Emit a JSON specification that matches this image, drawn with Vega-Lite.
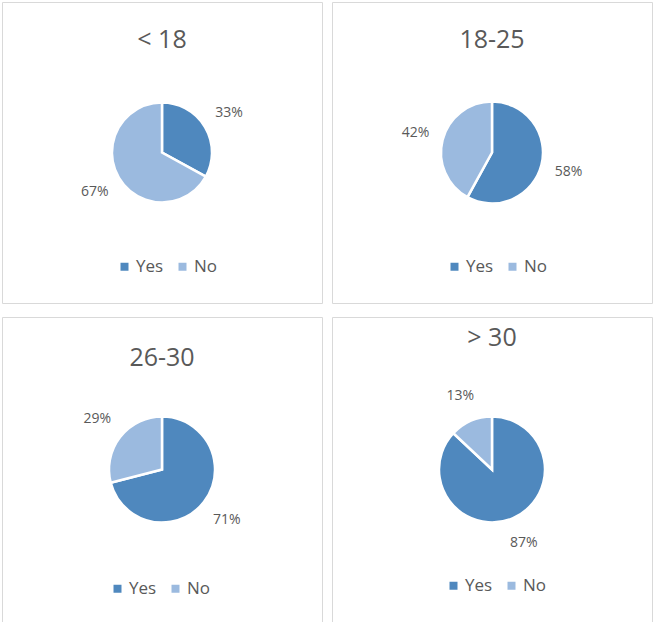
{
  "$schema": "https://vega.github.io/schema/vega-lite/v6.json",
  "padding": {"left": 1, "top": 1, "right": 0, "bottom": 0},
  "background": "white",
  "data": {"values": [
    {"group": "< 18", "answer": "Yes", "rank": 1, "share": 0.33},
    {"group": "< 18", "answer": "No", "rank": 2, "share": 0.67},
    {"group": "18-25", "answer": "Yes", "rank": 1, "share": 0.58},
    {"group": "18-25", "answer": "No", "rank": 2, "share": 0.42},
    {"group": "26-30", "answer": "Yes", "rank": 1, "share": 0.71},
    {"group": "26-30", "answer": "No", "rank": 2, "share": 0.29},
    {"group": "> 30", "answer": "Yes", "rank": 1, "share": 0.87},
    {"group": "> 30", "answer": "No", "rank": 2, "share": 0.13}
  ]},
  "columns": 2,
  "spacing": {"row": 12, "column": 8},
  "resolve": {"legend": {"color": "independent"}},
  "config": {
    "font": "Open Sans",
    "view": {"stroke": "#d9d9d9", "strokeWidth": 1},
    "title": {"fontSize": 25, "fontWeight": "normal", "color": "#595959", "font": "Open Sans", "baseline": "middle", "frame": "group", "anchor": "middle"},
    "legend": {"orient": "none", "direction": "horizontal", "symbolType": "square", "symbolSize": 64, "labelFontSize": 17, "labelColor": "#595959", "labelFont": "Open Sans", "columnPadding": 10, "labelOffset": 3, "symbolStrokeWidth": 0, "title": null}
  },
  "concat": [
    {
      "width": 320, "height": 301,
      "view": {"stroke": "#d9d9d9", "strokeWidth": 1, "fill": "white"},
      "title": {"text": "< 18", "offset": -51},
      "transform": [{"filter": "datum.group === '< 18'"}],
      "layer": [
        {"mark": {"type": "arc", "radius": 50, "stroke": "white", "strokeWidth": 2.5},
         "encoding": {
           "theta": {"field": "share", "type": "quantitative", "stack": true},
           "order": {"field": "rank", "type": "quantitative"},
           "color": {"field": "answer", "type": "nominal", "scale": {"domain": ["Yes", "No"], "range": ["#4F88BE", "#9BBADF"]}, "legend": {"legendX": 114, "legendY": 256, "title": null}}
         }},
        {"mark": {"type": "text", "radius": 78, "fontSize": 14, "color": "#595959"},
         "encoding": {
           "theta": {"field": "share", "type": "quantitative", "stack": true},
           "order": {"field": "rank", "type": "quantitative"},
           "text": {"field": "share", "type": "quantitative", "format": ".0%"}
         }}
      ]
    },
    {
      "width": 320, "height": 301,
      "view": {"stroke": "#d9d9d9", "strokeWidth": 1, "fill": "white"},
      "title": {"text": "18-25", "offset": -51},
      "transform": [{"filter": "datum.group === '18-25'"}],
      "layer": [
        {"mark": {"type": "arc", "radius": 51, "stroke": "white", "strokeWidth": 2.5},
         "encoding": {
           "theta": {"field": "share", "type": "quantitative", "stack": true},
           "order": {"field": "rank", "type": "quantitative"},
           "color": {"field": "answer", "type": "nominal", "scale": {"domain": ["Yes", "No"], "range": ["#4F88BE", "#9BBADF"]}, "legend": {"legendX": 114, "legendY": 256, "title": null}}
         }},
        {"mark": {"type": "text", "radius": 79, "fontSize": 14, "color": "#595959"},
         "encoding": {
           "theta": {"field": "share", "type": "quantitative", "stack": true},
           "order": {"field": "rank", "type": "quantitative"},
           "text": {"field": "share", "type": "quantitative", "format": ".0%"}
         }}
      ]
    },
    {
      "width": 320, "height": 305,
      "view": {"stroke": "#d9d9d9", "strokeWidth": 1, "fill": "white"},
      "title": {"text": "26-30", "offset": -54},
      "transform": [{"filter": "datum.group === '26-30'"}],
      "layer": [
        {"mark": {"type": "arc", "radius": 53, "stroke": "white", "strokeWidth": 2.5},
         "encoding": {
           "theta": {"field": "share", "type": "quantitative", "stack": true},
           "order": {"field": "rank", "type": "quantitative"},
           "color": {"field": "answer", "type": "nominal", "scale": {"domain": ["Yes", "No"], "range": ["#4F88BE", "#9BBADF"]}, "legend": {"legendX": 107, "legendY": 263, "title": null}}
         }},
        {"mark": {"type": "text", "radius": 82, "fontSize": 14, "color": "#595959"},
         "encoding": {
           "theta": {"field": "share", "type": "quantitative", "stack": true},
           "order": {"field": "rank", "type": "quantitative"},
           "text": {"field": "share", "type": "quantitative", "format": ".0%"}
         }}
      ]
    },
    {
      "width": 320, "height": 305,
      "view": {"stroke": "#d9d9d9", "strokeWidth": 1, "fill": "white"},
      "title": {"text": "> 30", "offset": -34},
      "transform": [{"filter": "datum.group === '> 30'"}],
      "layer": [
        {"mark": {"type": "arc", "radius": 53, "stroke": "white", "strokeWidth": 2.5},
         "encoding": {
           "theta": {"field": "share", "type": "quantitative", "stack": true},
           "order": {"field": "rank", "type": "quantitative"},
           "color": {"field": "answer", "type": "nominal", "scale": {"domain": ["Yes", "No"], "range": ["#4F88BE", "#9BBADF"]}, "legend": {"legendX": 113, "legendY": 260, "title": null}}
         }},
        {"mark": {"type": "text", "radius": 80, "fontSize": 14, "color": "#595959"},
         "encoding": {
           "theta": {"field": "share", "type": "quantitative", "stack": true},
           "order": {"field": "rank", "type": "quantitative"},
           "text": {"field": "share", "type": "quantitative", "format": ".0%"}
         }}
      ]
    }
  ]
}
